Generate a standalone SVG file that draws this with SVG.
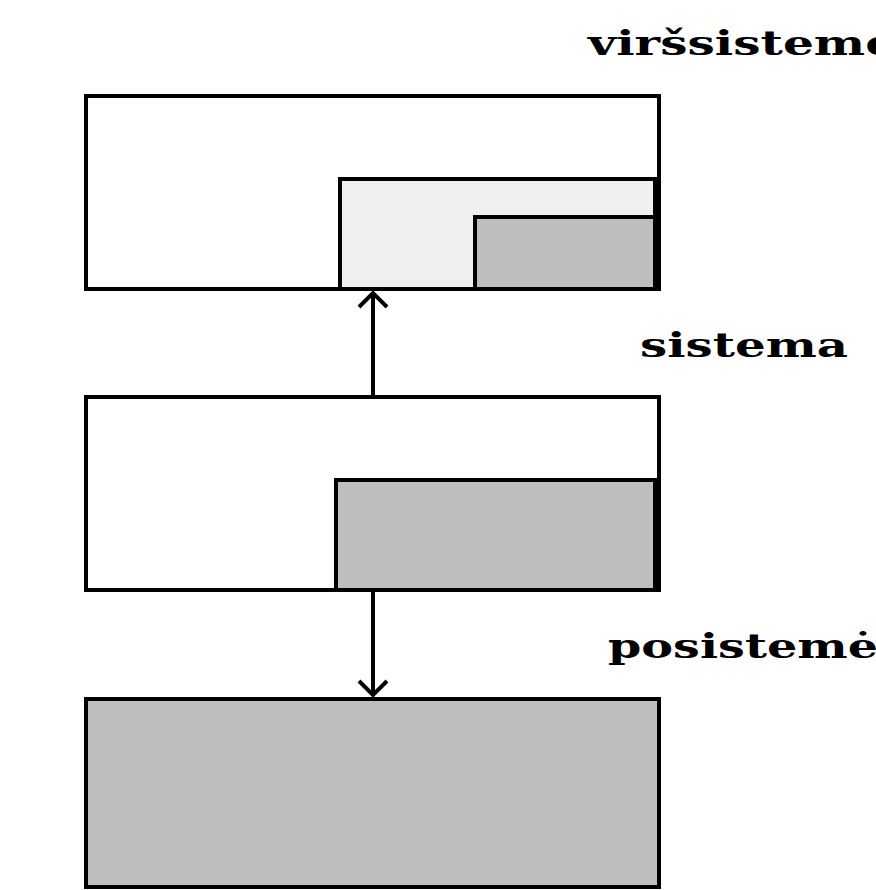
<svg xmlns="http://www.w3.org/2000/svg" width="876" height="890" viewBox="0 0 876 890">
<style>
  .box { stroke: #000; stroke-width: 4; }
  .white { fill: #ffffff; }
  .light { fill: #f0f0f0; }
  .dark { fill: #bebebe; }
  .lbl { font-family: "DejaVu Serif", "Liberation Serif", serif; font-weight: bold; font-size: 34px; fill: #000; }
  .conn { stroke: #000; stroke-width: 4; fill: none; }
</style>
<defs>
  <marker id="head" markerUnits="userSpaceOnUse" markerWidth="32" markerHeight="20" refX="15" refY="2" orient="auto-start-reverse" viewBox="0 0 30 20">
    <path d="M1,17 L15,3 L29,17" fill="none" stroke="#000" stroke-width="4"/>
  </marker>
</defs>
<rect width="876" height="890" fill="#ffffff"/>
<g id="virssisteme">
  <rect class="box white" x="86" y="96" width="573" height="193"/>
  <rect class="box light" x="340" y="179" width="315" height="110"/>
  <rect class="box dark" x="475" y="217" width="180" height="72"/>
  <text class="lbl" x="588" y="55" textLength="308" lengthAdjust="spacingAndGlyphs">viršsistemė</text>
</g>
<g id="sistema">
  <rect class="box white" x="86" y="397" width="573" height="193"/>
  <rect class="box dark" x="336" y="480" width="319" height="110"/>
  <text class="lbl" x="640" y="357" textLength="208" lengthAdjust="spacingAndGlyphs">sistema</text>
</g>
<g id="posisteme">
  <rect class="box dark" x="86" y="699" width="573" height="188"/>
  <text class="lbl" x="608" y="658" textLength="270" lengthAdjust="spacingAndGlyphs">posistemė</text>
</g>
<g id="connectors">
  <path class="conn" d="M373,395 L373,294"/>
  <path class="conn" d="M359,307 L373,293 L387,307"/>
  <path class="conn" d="M373,592 L373,695"/>
  <path class="conn" d="M359,681 L373,695 L387,681"/>
</g>
</svg>
